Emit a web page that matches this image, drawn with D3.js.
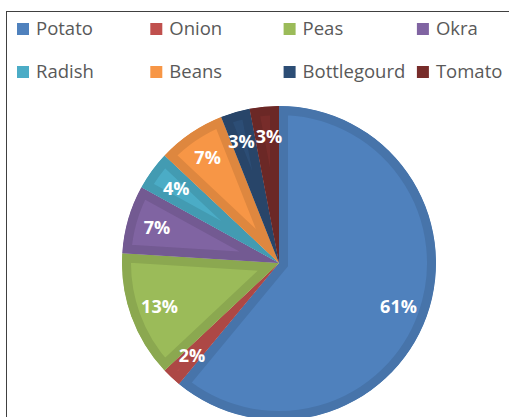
<!DOCTYPE html>
<html>
<head>
<meta charset="utf-8">
<script src="https://cdn.jsdelivr.net/npm/d3@7"></script>
<style>
  body { margin: 0; background: #fff; }
  svg { display: block; }
</style>
</head>
<body>
<svg id="chart"></svg>
<script>
// chart data
var categories = ["Potato", "Onion", "Peas", "Okra", "Radish", "Beans", "Bottlegourd", "Tomato"];
var shares = [61, 2, 13, 7, 4, 7, 3, 3];
var colors = ["#4F81BD", "#C0504D", "#9BBB59", "#8064A2", "#4BACC6", "#F79646", "#2C4D75", "#772C2A"];

var width = 509, height = 417;
var svg = d3.select("#chart")
  .attr("width", width)
  .attr("height", height);

// chart frame (right and bottom run off the picture)
svg.append("rect")
  .attr("x", 6.5).attr("y", 11.5)
  .attr("width", 600).attr("height", 500)
  .attr("fill", "none")
  .attr("stroke", "#404040")
  .attr("stroke-width", 1);

var color = d3.scaleOrdinal().domain(categories).range(colors);

// legend: 4 columns x 2 rows
var legend = svg.append("g").attr("class", "legend");
var item = legend.selectAll("g")
  .data(categories)
  .enter()
  .append("g")
  .attr("transform", function(d, i) {
    return "translate(" + (17 + (i % 4) * 133.3) + "," + (29 + Math.floor(i / 4) * 43) + ")";
  });
item.append("rect")
  .attr("x", 0).attr("y", -6)
  .attr("width", 12).attr("height", 12)
  .attr("fill", function(d) { return color(d); });
item.append("text")
  .attr("x", 19).attr("y", 0)
  .attr("dy", "0.35em")
  .style("font-family", "'Open Sans', sans-serif")
  .style("font-size", "18.5px")
  .style("fill", "#595959")
  .text(function(d) { return d; });

// pie
var cx = 279, cy = 263, r = 157;
var pie = d3.pie().sort(null).value(function(d) { return d.value; });
var arcs = pie(categories.map(function(c, i) { return {name: c, value: shares[i]}; }));
var arc = d3.arc().innerRadius(0).outerRadius(r);
var labelArc = d3.arc().innerRadius(127).outerRadius(127);

var g = svg.append("g").attr("transform", "translate(" + cx + "," + cy + ")");
var defs = svg.append("defs");

defs.selectAll("clipPath")
  .data(arcs)
  .enter()
  .append("clipPath")
  .attr("id", function(d, i) { return "clip" + i; })
  .append("path")
  .attr("d", arc);

// each slice: lighter fill with a darker band inside its edge
g.selectAll("path.slice")
  .data(arcs)
  .enter()
  .append("path")
  .attr("class", "slice")
  .attr("d", arc)
  .attr("clip-path", function(d, i) { return "url(#clip" + i + ")"; })
  .attr("fill", function(d) { return color(d.data.name); })
  .attr("stroke", function(d) { return d3.color(color(d.data.name)).darker(0.3); })
  .attr("stroke-width", 18)
  .attr("stroke-linejoin", "miter");

var labels = g.selectAll("text.pct")
  .data(arcs)
  .enter()
  .append("text")
  .attr("class", "pct")
  .attr("text-anchor", "middle")
  .attr("dy", "0.36em")
  .style("font-family", "'Open Sans', sans-serif")
  .style("font-weight", "bold")
  .style("font-size", "18px")
  .style("fill", "#fff")
  .text(function(d) { return d.data.value + "%"; });

// place labels on the centroid, then push crowded neighbours apart sideways
var pos = arcs.map(function(d) { return labelArc.centroid(d); });
var w = [];
labels.each(function(d, i) { w[i] = this.getComputedTextLength(); });
for (var i = 1; i < pos.length; i++) {
  var a = pos[i - 1], b = pos[i];
  if (Math.abs(a[1] - b[1]) < 16) {
    var gap = (w[i - 1] + w[i]) / 2 + 1 - Math.abs(b[0] - a[0]);
    if (gap > 0) {
      var s = b[0] > a[0] ? 1 : -1;
      a[0] -= s * gap / 2;
      b[0] += s * gap / 2;
    }
  }
}
labels.attr("transform", function(d, i) { return "translate(" + pos[i] + ")"; });
</script>
</body>
</html>
